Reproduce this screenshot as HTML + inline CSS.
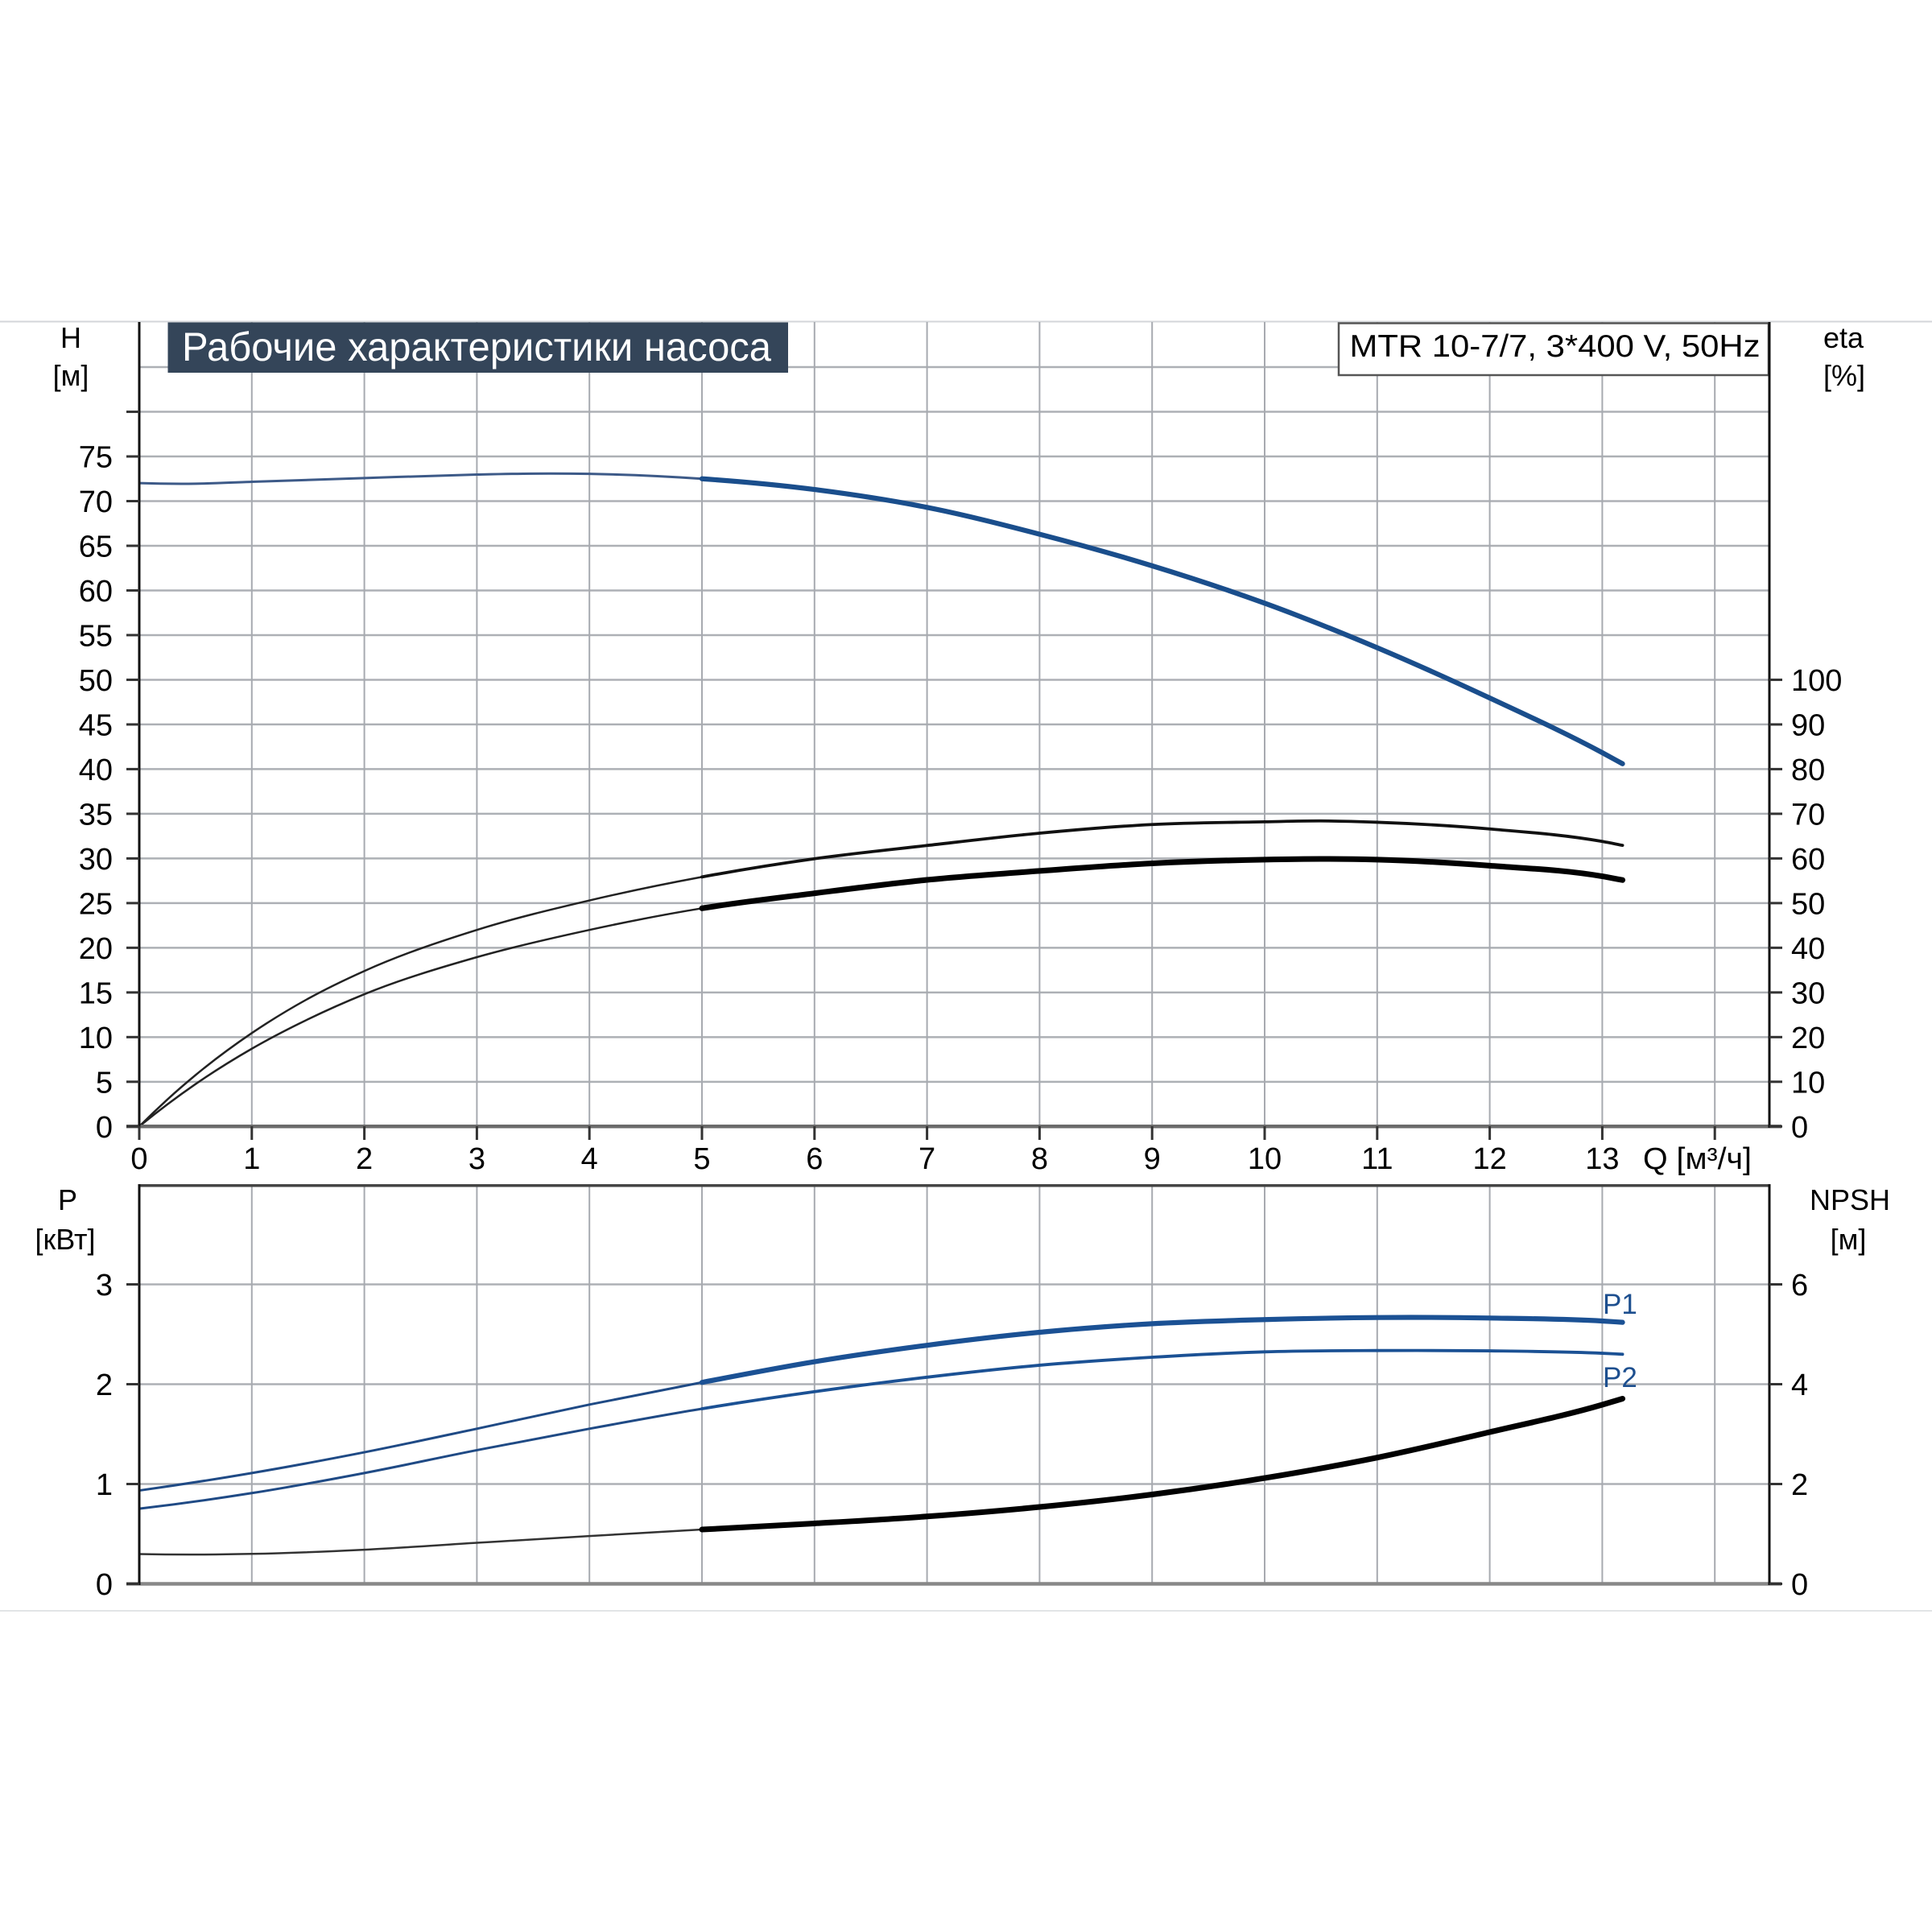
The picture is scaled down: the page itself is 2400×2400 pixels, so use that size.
<!DOCTYPE html>
<html>
<head>
<meta charset="utf-8">
<style>
html,body{margin:0;padding:0;background:#fff;}
svg{display:block;}
text{font-family:"Liberation Sans",Arial,sans-serif;}
</style>
</head>
<body>
<svg id="s" xmlns="http://www.w3.org/2000/svg" width="2400" height="2400" viewBox="0 0 2400 2400">
<rect x="0" y="0" width="2400" height="2400" fill="#fff"/>
<line x1="0" y1="399.5" x2="2400" y2="399.5" stroke="#d3d6d9" stroke-width="2"/>
<line x1="0" y1="2001" x2="2400" y2="2001" stroke="#e2e4e6" stroke-width="2"/>

<g id="grid" stroke-width="2"></g>

<rect x="208.5" y="400.5" width="770.5" height="62.5" fill="#344559"/>
<text x="226" y="448" font-size="50" fill="#ffffff" textLength="732" lengthAdjust="spacingAndGlyphs">Рабочие характеристики насоса</text>
<rect x="1663" y="401.5" width="534" height="64.5" fill="#ffffff" stroke="#555" stroke-width="2.5"/>
<text x="1676.5" y="443" font-size="39" fill="#000" textLength="510" lengthAdjust="spacingAndGlyphs">MTR 10-7/7, 3*400 V, 50Hz</text>

<g transform="matrix(139.8 0 0 -11.097 173 1399.3)" fill="none" stroke-linejoin="round">
  <path id="h_a" stroke="#3d5a88" stroke-width="3" vector-effect="non-scaling-stroke" d=""/>
  <path id="h_b" stroke="#1a4e8c" stroke-width="6.2" stroke-linecap="round" vector-effect="non-scaling-stroke" d=""/>
  <path id="e1_a" stroke="#222" stroke-width="2.5" vector-effect="non-scaling-stroke" d=""/>
  <path id="e1_b" stroke="#111" stroke-width="3.8" stroke-linecap="round" vector-effect="non-scaling-stroke" d=""/>
  <path id="e2_a" stroke="#222" stroke-width="2.5" vector-effect="non-scaling-stroke" d=""/>
  <path id="e2_b" stroke="#000" stroke-width="7" stroke-linecap="round" vector-effect="non-scaling-stroke" d=""/>
</g>
<g transform="matrix(139.8 0 0 -124 173 1967.5)" fill="none" stroke-linejoin="round">
  <path id="p1_a" stroke="#1f4a85" stroke-width="3" vector-effect="non-scaling-stroke" d=""/>
  <path id="p1_b" stroke="#1b5194" stroke-width="6.2" stroke-linecap="round" vector-effect="non-scaling-stroke" d=""/>
  <path id="p2_a" stroke="#1f4a85" stroke-width="3" vector-effect="non-scaling-stroke" d=""/>
  <path id="p2_b" stroke="#1b5194" stroke-width="3.8" stroke-linecap="round" vector-effect="non-scaling-stroke" d=""/>
  <path id="np_a" stroke="#333" stroke-width="2.5" vector-effect="non-scaling-stroke" d=""/>
  <path id="np_b" stroke="#000" stroke-width="7" stroke-linecap="round" vector-effect="non-scaling-stroke" d=""/>
</g>

<g id="axes"></g>
<g id="labels" font-size="38" fill="#000"></g>

<g font-size="36" fill="#000" text-anchor="middle">
  <text x="88" y="432">H</text>
  <text x="88" y="479">[м]</text>
  <text x="2290" y="432">eta</text>
  <text x="2291" y="479">[%]</text>
  <text x="84" y="1503">P</text>
  <text x="81" y="1552">[кВт]</text>
  <text x="2298" y="1503">NPSH</text>
  <text x="2296" y="1552">[м]</text>
</g>
<text x="2041" y="1452" font-size="38" fill="#000" textLength="135" lengthAdjust="spacingAndGlyphs">Q [м³/ч]</text>
<text x="1991" y="1632" font-size="35" fill="#1d4f8f">P1</text>
<text x="1991" y="1723" font-size="35" fill="#1d4f8f">P2</text>
</svg>

<script>
(function(){
var NS="http://www.w3.org/2000/svg";
function el(parent,tag,attrs,txt){var e=document.createElementNS(NS,tag);for(var k in attrs)e.setAttribute(k,attrs[k]);if(txt!==undefined)e.textContent=txt;parent.appendChild(e);return e;}
var X=function(q){return 173+139.8*q;};
var YH=function(h){return 1399.3-11.097*h;};
var YP=function(p){return 1967.5-124*p;};
var grid=document.getElementById('grid');
var axes=document.getElementById('axes');
var labels=document.getElementById('labels');
for(var h=5;h<=85;h+=5){el(grid,'line',{x1:173,y1:YH(h),x2:2198,y2:YH(h),stroke:'#adb0b5','stroke-width':2.5});}
for(var q=1;q<=14;q++){el(grid,'line',{x1:X(q),y1:400,x2:X(q),y2:1399,stroke:'#a7aab0','stroke-width':2});}
for(var p=1;p<=3;p++){el(grid,'line',{x1:173,y1:YP(p),x2:2198,y2:YP(p),stroke:'#adb0b5','stroke-width':2.5});}
for(var q=1;q<=14;q++){el(grid,'line',{x1:X(q),y1:1473,x2:X(q),y2:1967,stroke:'#a7aab0','stroke-width':2});}

el(axes,'line',{x1:157,y1:1399.3,x2:2213,y2:1399.3,stroke:'#6b6b6b','stroke-width':4.5});
el(axes,'line',{x1:173,y1:400,x2:173,y2:1401,stroke:'#111','stroke-width':3});
el(axes,'line',{x1:2198,y1:400,x2:2198,y2:1401,stroke:'#111','stroke-width':3});
el(axes,'line',{x1:172,y1:1472.7,x2:2199,y2:1472.7,stroke:'#444','stroke-width':3.5});
el(axes,'line',{x1:157,y1:1967.5,x2:2213,y2:1967.5,stroke:'#888','stroke-width':4.5});
el(axes,'line',{x1:173,y1:1471,x2:173,y2:1969,stroke:'#111','stroke-width':3});
el(axes,'line',{x1:2198,y1:1471,x2:2198,y2:1969,stroke:'#111','stroke-width':3});
for(var h=0;h<=80;h+=5){el(axes,'line',{x1:157,y1:YH(h),x2:173,y2:YH(h),stroke:'#333','stroke-width':3});}
for(var h=0;h<=50;h+=5){el(axes,'line',{x1:2198,y1:YH(h),x2:2214,y2:YH(h),stroke:'#333','stroke-width':3});}
for(var q=0;q<=14;q++){el(axes,'line',{x1:X(q),y1:1399,x2:X(q),y2:1416,stroke:'#333','stroke-width':3});}
for(var p=0;p<=3;p++){el(axes,'line',{x1:157,y1:YP(p),x2:173,y2:YP(p),stroke:'#333','stroke-width':3});el(axes,'line',{x1:2198,y1:YP(p),x2:2214,y2:YP(p),stroke:'#333','stroke-width':3});}

for(var h=0;h<=75;h+=5){el(labels,'text',{x:140,y:YH(h)+13.5,'text-anchor':'end'},String(h));}
for(var e=0;e<=100;e+=10){el(labels,'text',{x:2225,y:YH(e/2)+13.5},String(e));}
for(var q=0;q<=13;q++){el(labels,'text',{x:X(q),y:1452,'text-anchor':'middle'},String(q));}
for(var p=0;p<=3;p++){el(labels,'text',{x:140,y:YP(p)+13.5,'text-anchor':'end'},String(p));el(labels,'text',{x:2225,y:YP(p)+13.5},String(p*2));}

var D={
 h:[[0,72.02],[0.5,71.95],[1,72.16],[2,72.58],[3,72.97],[3.5,73.08],[4,73.05],[5,72.5],[6,71.3],[7,69.3],[8,66.3],[9,62.76],[10,58.57],[11,53.59],[12,47.96],[13,41.84],[13.18,40.6]],
 e1:[[0,0],[0.25,3.02],[0.5,5.75],[1,10.45],[1.5,14.3],[2,17.4],[3,22.0],[4,25.3],[5,27.93],[6,29.97],[7,31.45],[8,32.83],[9,33.8],[10,34.1],[10.5,34.2],[11,34.05],[12,33.3],[13,31.9],[13.18,31.47]],
 e2:[[0,0],[0.25,2.47],[0.5,4.74],[1,8.7],[1.5,12.0],[2,14.8],[3,18.95],[4,22.0],[5,24.42],[6,26.1],[7,27.6],[8,28.6],[9,29.45],[10,29.87],[10.5,29.95],[11,29.87],[12,29.19],[13,28.0],[13.18,27.58]],
 p1:[[0,0.935],[1,1.11],[2,1.318],[3,1.554],[4,1.796],[5,2.018],[6,2.225],[7,2.39],[8,2.52],[9,2.606],[10,2.647],[11,2.668],[12,2.663],[13,2.633],[13.18,2.62]],
 p2:[[0,0.753],[1,0.909],[2,1.11],[3,1.339],[4,1.554],[5,1.754],[6,1.925],[7,2.07],[8,2.19],[9,2.27],[10,2.324],[11,2.337],[12,2.334],[13,2.31],[13.18,2.30]],
 np:[[0,0.298],[0.5,0.293],[1,0.30],[2,0.342],[3,0.411],[4,0.479],[5,0.544],[6,0.605],[7,0.675],[8,0.77],[9,0.895],[10,1.06],[11,1.265],[12,1.52],[13,1.794],[13.18,1.855]]
};
function slopes(p){var n=p.length,m=[];for(var i=0;i<n;i++){if(i==0||i==n-1){m.push(0);}else{var h0=p[i][0]-p[i-1][0],h1=p[i+1][0]-p[i][0];var d0=(p[i][1]-p[i-1][1])/h0,d1=(p[i+1][1]-p[i][1])/h1;m.push((d0*h1+d1*h0)/(h0+h1));}}
 var ds=(p[1][1]-p[0][1])/(p[1][0]-p[0][0]);m[0]=2*ds-m[1];
 var de=(p[n-1][1]-p[n-2][1])/(p[n-1][0]-p[n-2][0]);m[n-1]=de;
 return m;}
function path(p,a,b){var m=slopes(p);var s='M'+p[a][0]+','+p[a][1];for(var i=a;i<b;i++){var x0=p[i][0],y0=p[i][1],x1=p[i+1][0],y1=p[i+1][1],h=x1-x0;s+=' C'+(x0+h/3)+','+(y0+m[i]*h/3)+' '+(x1-h/3)+','+(y1-m[i+1]*h/3)+' '+x1+','+y1;}return s;}
function split(name,idx){var p=D[name];document.getElementById(name+'_a').setAttribute('d',path(p,0,idx));document.getElementById(name+'_b').setAttribute('d',path(p,idx,p.length-1));}
function idx5(name){var p=D[name];for(var i=0;i<p.length;i++){if(p[i][0]===5)return i;}return 0;}
['h','e1','e2','p1','p2','np'].forEach(function(n){split(n,idx5(n));});
})();
</script>
</body>
</html>
